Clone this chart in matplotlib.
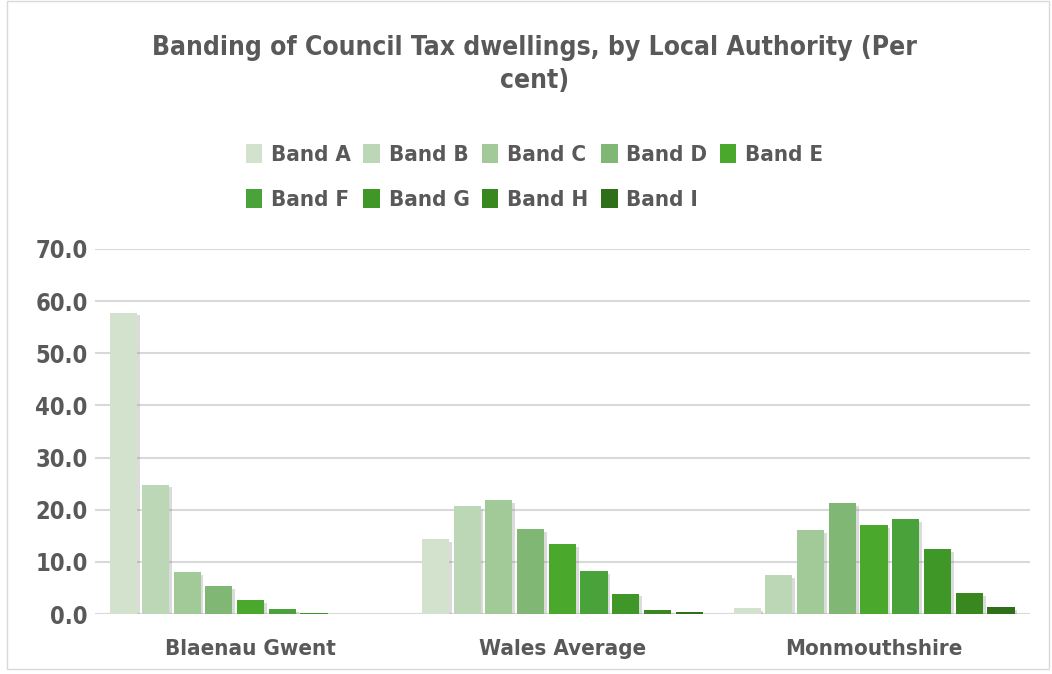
import numpy as np
import matplotlib
matplotlib.use('Agg')
import matplotlib.pyplot as plt
import matplotlib.patheffects as pe
from matplotlib.patches import Rectangle

areas = ['Blaenau Gwent', 'Wales Average', 'Monmouthshire']
bands = ['Band A', 'Band B', 'Band C', 'Band D', 'Band E',
         'Band F', 'Band G', 'Band H', 'Band I']
blaenau = [57.8, 24.8, 8.1, 5.4, 2.7, 1.0, 0.2, 0.0, 0.0]
wales = [14.4, 20.7, 21.9, 16.3, 13.4, 8.2, 3.9, 0.8, 0.4]
monmouth = [1.2, 7.5, 16.1, 21.3, 17.1, 18.2, 12.5, 4.0, 1.3]
colors = ['#d2e2cd', '#bcd7b5', '#a2c998', '#80b774', '#4aa82c',
          '#4aa33a', '#3f9728', '#38881f', '#2f6f1a']

plt.rcParams['font.family'] = ['DejaVu Sans']
plt.rcParams['font.stretch'] = 'condensed'
txt = '#595959'

fig = plt.figure(figsize=(10.52, 6.74), dpi=100)
ax = fig.add_axes([0.09, 0.089, 0.889, 0.5416])

values = np.array([blaenau, wales, monmouth])
x = np.arange(len(areas))
w = 0.087
allbars = []
for i, b in enumerate(bands):
    bars = ax.bar(x + (i - 4) * w * 1.17, values[:, i], width=w, color=colors[i],
                  label=b, zorder=3)
    allbars.append(bars)

ax.set_ylim(0, 70)
ax.set_xlim(-0.5, 2.5)
ax.set_yticks(np.arange(0, 71, 10))
ax.set_yticklabels([f'{v:.1f}' for v in range(0, 71, 10)])
ax.set_xticks(x)
ax.set_xticklabels(areas)
ax.grid(axis='y', color='#d9d9d9', linewidth=1.5, zorder=0)
for s in ax.spines.values():
    s.set_visible(False)
ax.tick_params(length=0, labelcolor=txt, labelsize=16)
ax.tick_params(axis='x', pad=18)
ax.tick_params(axis='y', pad=5, labelsize=17)
for t in ax.get_xticklabels() + ax.get_yticklabels():
    t.set_fontweight('bold')

fig.text(0.508, 0.905, 'Banding of Council Tax dwellings, by Local Authority (Per\ncent)',
         ha='center', va='center', fontsize=19, fontweight='bold', color=txt,
         linespacing=1.35)

# row-major legend order over 5 columns
order = [0, 5, 1, 6, 2, 7, 3, 8, 4]
handles = [allbars[i] for i in order]
labels = [bands[i] for i in order]
leg = fig.legend(handles, labels, loc='center', bbox_to_anchor=(0.508, 0.737), ncol=5,
                 frameon=False, prop={'size': 16, 'weight': 'bold'},
                 handlelength=0.75, handleheight=0.9, handletextpad=0.4,
                 columnspacing=0.55, labelspacing=1.1)
for t in leg.get_texts():
    t.set_color(txt)

shadow = [pe.SimplePatchShadow(offset=(2, -2), shadow_rgbFace='#888888', alpha=0.3), pe.Normal()]
for bars in allbars:
    for r in bars:
        r.set_path_effects(shadow)

fig.patches.append(Rectangle((0.007, 0.008), 0.99, 0.99, transform=fig.transFigure,
                             fill=False, edgecolor='#d9d9d9', linewidth=1))

fig.savefig('out.png', dpi=100)
